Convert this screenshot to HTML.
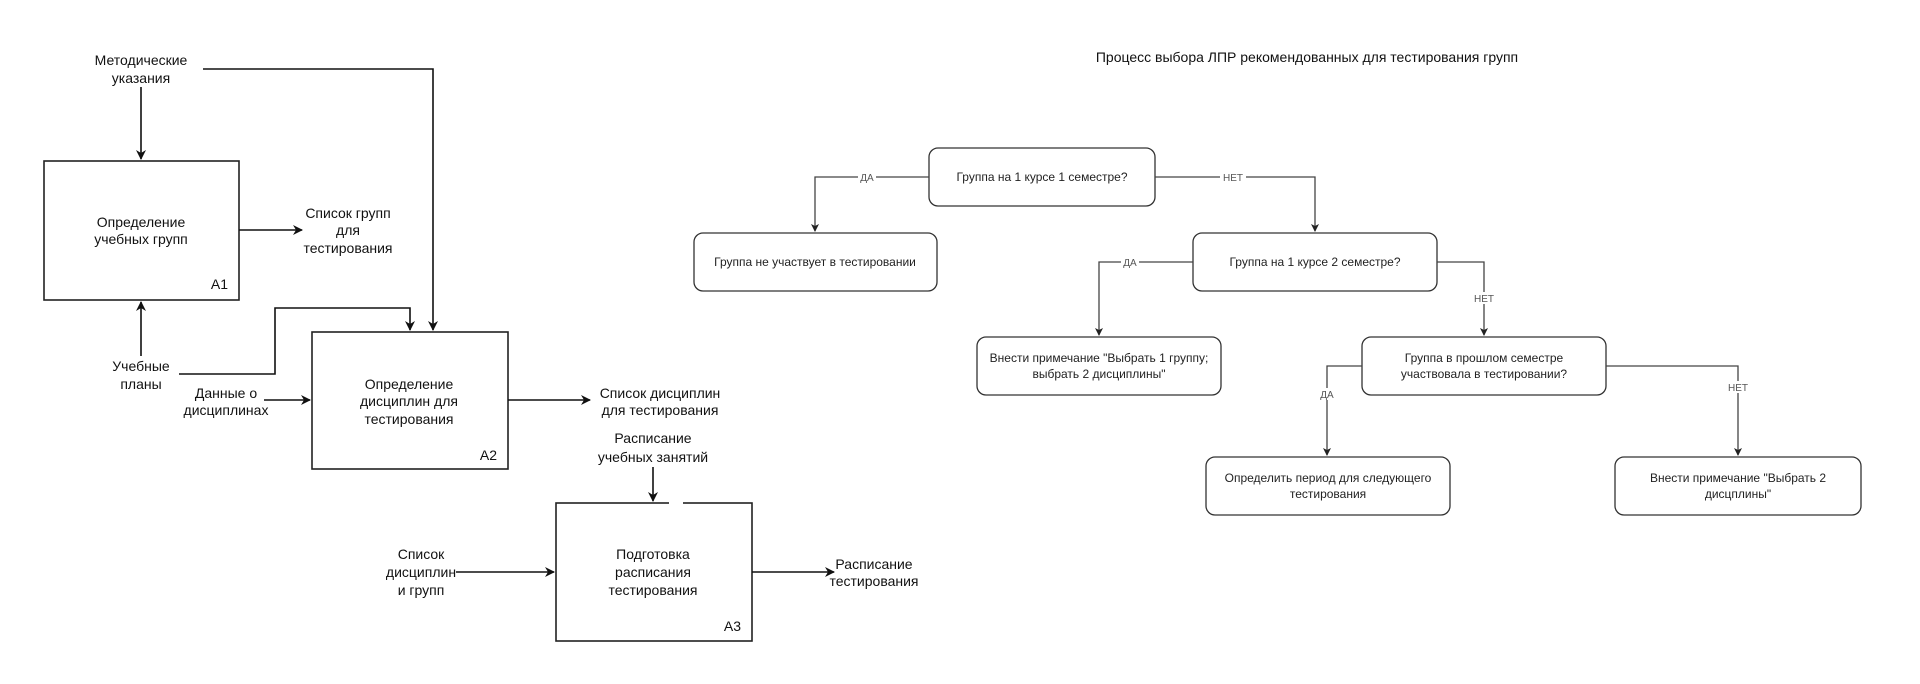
<!DOCTYPE html>
<html><head><meta charset="utf-8"><style>
html,body{margin:0;padding:0;background:#fff;}
svg{display:block;font-family:"Liberation Sans","Noto Sans CJK SC",sans-serif;}
.l text{font-size:14px;fill:#111;text-anchor:middle;}
.r text{font-size:12px;fill:#222;text-anchor:middle;}
.lab{font-size:10px !important;fill:#555 !important;}
</style></head><body>
<svg width="1920" height="684" viewBox="0 0 1920 684" xmlns="http://www.w3.org/2000/svg">
<defs>
<marker id="a" markerWidth="10" markerHeight="10" refX="9" refY="5" orient="auto" markerUnits="userSpaceOnUse"><path d="M0,0 L10,5 L0,10 L3,5 z" fill="#111"/></marker>
<marker id="b" markerWidth="8" markerHeight="8" refX="7" refY="4" orient="auto" markerUnits="userSpaceOnUse"><path d="M0,0 L8,4 L0,8 L2,4 z" fill="#222"/></marker>
</defs>
<g class="l" stroke-width="1.6">
<rect x="44" y="161" width="195" height="139" fill="none" stroke="#222"/>
<rect x="312" y="332" width="196" height="137" fill="none" stroke="#222"/>
<rect x="556" y="503" width="196" height="138" fill="none" stroke="#222"/>
<line x1="669" y1="503" x2="683" y2="503" stroke="#fff" stroke-width="4"/>
<g fill="none" stroke="#111">
<path d="M141 87 V159" marker-end="url(#a)"/>
<path d="M203 69 H433 V330" marker-end="url(#a)"/>
<path d="M239 230 H302" marker-end="url(#a)"/>
<path d="M141 356 V302" marker-end="url(#a)"/>
<path d="M179 374 H275 V308 H410 V330" marker-end="url(#a)"/>
<path d="M264 400 H310" marker-end="url(#a)"/>
<path d="M508 400 H590" marker-end="url(#a)"/>
<path d="M653 467 V501" marker-end="url(#a)"/>
<path d="M456 572 H554" marker-end="url(#a)"/>
<path d="M752 572 H834" marker-end="url(#a)"/>
</g>
<text x="141" y="65">Методические</text><text x="141" y="83">указания</text>
<text x="141" y="227">Определение</text><text x="141" y="244">учебных групп</text>
<text x="228" y="289" style="text-anchor:end">А1</text>
<text x="348" y="218">Список групп</text><text x="348" y="235">для</text><text x="348" y="253">тестирования</text>
<text x="141" y="371">Учебные</text><text x="141" y="389">планы</text>
<text x="226" y="398">Данные о</text><text x="226" y="415">дисциплинах</text>
<text x="409" y="389">Определение</text><text x="409" y="406">дисциплин для</text><text x="409" y="424">тестирования</text>
<text x="497" y="460" style="text-anchor:end">А2</text>
<text x="660" y="398">Список дисциплин</text><text x="660" y="415">для тестирования</text>
<text x="653" y="443">Расписание</text><text x="653" y="462">учебных занятий</text>
<text x="653" y="559">Подготовка</text><text x="653" y="577">расписания</text><text x="653" y="595">тестирования</text>
<text x="741" y="631" style="text-anchor:end">А3</text>
<text x="421" y="559">Список</text><text x="421" y="577">дисциплин</text><text x="421" y="595">и групп</text>
<text x="874" y="569">Расписание</text><text x="874" y="586">тестирования</text>
</g>
<g class="r">
<text x="1307" y="62" style="font-size:14px;fill:#111">Процесс выбора ЛПР рекомендованных для тестирования групп</text>
<g fill="#fff" stroke="#333" stroke-width="1.3">
<rect x="929" y="148" width="226" height="58" rx="9"/>
<rect x="694" y="233" width="243" height="58" rx="9"/>
<rect x="1193" y="233" width="244" height="58" rx="9"/>
<rect x="977" y="337" width="244" height="58" rx="9"/>
<rect x="1362" y="337" width="244" height="58" rx="9"/>
<rect x="1206" y="457" width="244" height="58" rx="9"/>
<rect x="1615" y="457" width="246" height="58" rx="9"/>
</g>
<g fill="none" stroke="#444" stroke-width="1.3">
<path d="M929 177 H815 V231" marker-end="url(#b)"/>
<path d="M1155 177 H1315 V231" marker-end="url(#b)"/>
<path d="M1193 262 H1099 V335" marker-end="url(#b)"/>
<path d="M1437 262 H1484 V335" marker-end="url(#b)"/>
<path d="M1362 366 H1327 V455" marker-end="url(#b)"/>
<path d="M1606 366 H1738 V455" marker-end="url(#b)"/>
</g>
<g>
<rect x="858" y="171" width="18" height="12" fill="#fff"/><text x="867" y="181" class="lab">ДА</text>
<rect x="1220" y="171" width="26" height="12" fill="#fff"/><text x="1233" y="181" class="lab">НЕТ</text>
<rect x="1121" y="256" width="18" height="12" fill="#fff"/><text x="1130" y="266" class="lab">ДА</text>
<rect x="1471" y="292" width="26" height="12" fill="#fff"/><text x="1484" y="302" class="lab">НЕТ</text>
<rect x="1318" y="388" width="18" height="12" fill="#fff"/><text x="1327" y="398" class="lab">ДА</text>
<rect x="1725" y="381" width="26" height="12" fill="#fff"/><text x="1738" y="391" class="lab">НЕТ</text>
</g>
<text x="1042" y="181">Группа на 1 курсе 1 семестре?</text>
<text x="815" y="266">Группа не участвует в тестировании</text>
<text x="1315" y="266">Группа на 1 курсе 2 семестре?</text>
<text x="1099" y="362">Внести примечание "Выбрать 1 группу;</text><text x="1099" y="378">выбрать 2 дисциплины"</text>
<text x="1484" y="362">Группа в прошлом семестре</text><text x="1484" y="378">участвовала в тестировании?</text>
<text x="1328" y="482">Определить период для следующего</text><text x="1328" y="498">тестирования</text>
<text x="1738" y="482">Внести примечание "Выбрать 2</text><text x="1738" y="498">дисцплины"</text>
</g>
</svg>
</body></html>
